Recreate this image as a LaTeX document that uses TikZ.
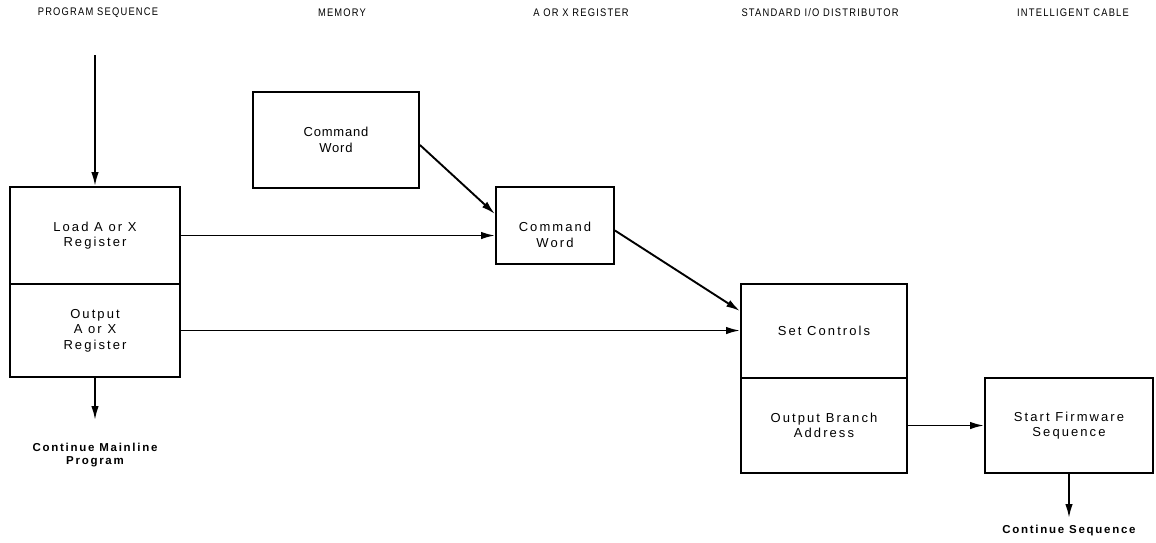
\documentclass[tikz,border=0pt]{standalone}
\usepackage{fontspec}
\setmainfont{Liberation Sans}
\newfontfamily\headfont[FakeStretch=0.85,LetterSpace=11]{Liberation Sans}
\newfontfamily\boxfont[LetterSpace=16]{Liberation Sans}
\newfontfamily\memfont[LetterSpace=6]{Liberation Sans}
\newfontfamily\notefont[LetterSpace=15]{Liberation Sans}
\usetikzlibrary{arrows.meta,calc}
\begin{document}
\begin{tikzpicture}[x=1pt,y=-1pt,
  box/.style={draw,line width=1.9pt,rectangle,inner sep=2pt,align=center,font=\boxfont\fontsize{13}{15.5}\selectfont},
  head/.style={font=\headfont\fontsize{11}{12}\selectfont},
  note/.style={font=\notefont\bfseries\fontsize{11.5}{13}\selectfont,align=center},
  txt/.style={align=center,font=\boxfont\fontsize{13}{15.5}\selectfont},
  flow/.style={line width=1.9pt,-{Latex[length=14pt,width=7.5pt]}}]
\useasboundingbox (0,0) rectangle (1156,542);
\fill[white] (0,0) rectangle (1156,542);

% column headings
\node[head] (h1) at (98,13) {PROGRAM SEQUENCE};
\node[head] (h2) at (342,13) {MEMORY};
\node[head] (h3) at (581,13) {A OR X REGISTER};
\node[head] (h4) at (820,13) {STANDARD I/O DISTRIBUTOR};
\node[head] (h5) at (1073,13) {INTELLIGENT CABLE};

% program sequence column
\node[box,minimum width=170pt,minimum height=97pt] (load) at (95,235.5) {Load A or X\\Register};
\node[box,minimum width=170pt,minimum height=93pt] (out) at (95,330.5) {Output\\A or X\\Register};

% memory and register
\node[box,minimum width=166pt,minimum height=96pt,font=\memfont\fontsize{13}{16}\selectfont] (mem) at (336,140) {Command\\Word};
\node[box,minimum width=118pt,minimum height=77pt] (ax) at (555,225.5) {};
\node[txt] (axt) at (555,235) {Command\\Word};

% I/O distributor
\node[box,minimum width=166pt,minimum height=94pt] (setc) at (824,331) {Set Controls};
\node[box,minimum width=166pt,minimum height=95pt] (oba) at (824,425.5) {Output Branch\\Address};

% intelligent cable
\node[box,minimum width=168pt,minimum height=95pt] (fw) at (1069,425.5) {Start Firmware\\Sequence};

% free ends
\coordinate (in) at (95,55);
\coordinate (mainend) at (95,420);
\coordinate (seqend) at (1069,518);

\node[note] (cmp) at (95,455) {Continue Mainline\\Program};
\node[note] (cs) at (1069,531) {Continue Sequence};

% connectors
\draw[flow] (in) -- (load.north);
\draw[flow] (out.south) -- (mainend);
\draw[flow] (load.east) -- (load.east -| ax.west);
\draw[flow] (out.east) -- (out.east -| setc.west);
\draw[flow] ([yshift=-5pt]mem.east) -- ([yshift=-28pt]ax.north west);
\draw[flow] ([yshift=-5pt]ax.east) -- ([yshift=20pt]setc.west);
\draw[flow] (oba.east) -- (fw.west);
\draw[flow] (fw.south) -- (seqend);
\end{tikzpicture}
\end{document}
